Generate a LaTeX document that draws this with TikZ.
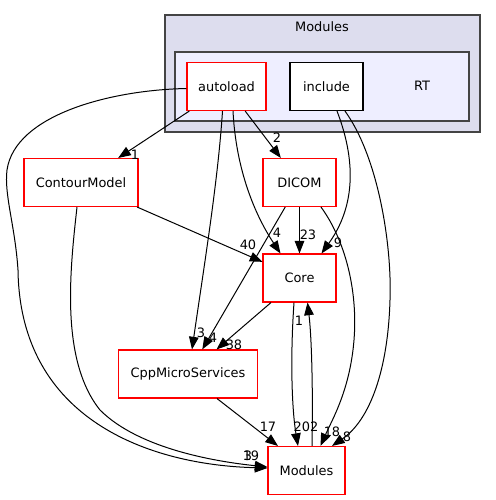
\documentclass[tikz,border=0pt]{standalone}
\usepackage{fontspec}
\setmainfont{DejaVu Sans}
\usepackage{tikz}
\usetikzlibrary{arrows.meta, calc}

\definecolor{clusterfill}{HTML}{DDDDEE}
\definecolor{rtfill}{HTML}{EEEEFF}
\definecolor{clusterline}{HTML}{444444}

\begin{document}
\begin{tikzpicture}[
    x=0.75pt, y=-0.75pt,
    every node/.style={font=\fontsize{9.7}{11}\selectfont},
    dir/.style={rectangle, draw=red, fill=white, line width=0.8pt, minimum height=36pt, inner sep=0pt},
    plaindir/.style={dir, draw=black},
    cluster/.style={rectangle, draw=clusterline, line width=1.1pt, inner sep=0pt},
    dep/.style={-{Triangle[length=9.5pt,width=7.2pt]}, line width=0.75pt},
    num/.style={inner sep=0pt}
]
\useasboundingbox (0,0) rectangle (496,500);

% clusters
\node[cluster, fill=clusterfill, minimum width=236.25pt, minimum height=87.75pt] (modcluster) at (322.5,73.5) {};
\node (modtitle) at (322,27) {Modules};
\node[cluster, fill=rtfill, minimum width=220.5pt, minimum height=51.75pt] (rtcluster) at (322,86.5) {};
\node (rttitle) at (422,86) {RT};

% directories
\node[dir, minimum width=59.25pt] (autoload) at (226.5,86.5) {autoload};
\node[plaindir, minimum width=54.75pt] (include) at (326.5,86.5) {include};
\node[dir, minimum width=85.5pt] (contour) at (81,182.5) {ContourModel};
\node[dir, minimum width=54.75pt] (dicom) at (299.5,182.5) {DICOM};
\node[dir, minimum width=54.75pt] (core) at (299.5,278) {Core};
\node[dir, minimum width=104.25pt] (cpp) at (188,374) {CppMicroServices};
\node[dir, minimum width=57.75pt] (mods) at (306.5,470.5) {Modules};

% dependencies
\draw[dep] (autoload) -- (contour);
\draw[dep] (autoload) -- (dicom);
\draw[dep] ($(autoload.south)+(6.5,0)$) .. controls (236,170) and (255,215) .. ($(core.north)+(-19,0)$);
\draw[dep] ($(autoload.south)+(-4,0)$) .. controls (218,180) and (205,260) .. ($(cpp.north)+(4,0)$);
\draw[dep] ($(autoload.west)+(0,2)$) .. controls (110,90) and (15,115) .. (7,170)
    .. controls (4,195) and (15,225) .. (18,270)
    .. controls (20,420) and (150,465) .. ($(mods.west)+(0,-2.5)$);
\draw[dep] ($(contour.south)+(-4,0)$) .. controls (70,270) and (60,360) .. (100,410)
    .. controls (140,450) and (220,462) .. ($(mods.west)+(0,-3.5)$);
\draw[dep] (contour) -- (core);
\draw[dep] (dicom) -- (core);
\draw[dep] (dicom) -- (cpp);
\draw[dep] ($(dicom.south)+(21.5,0)$) .. controls (345,240) and (358,290) .. (354,340)
    .. controls (350,390) and (332,420) .. ($(mods.north)+(14,0)$);
\draw[dep] ($(include.south)+(10.5,0)$) .. controls (352,150) and (360,200) .. ($(core.north)+(22,0)$);
\draw[dep] ($(include.south)+(18.5,0)$) .. controls (380,160) and (392,250) .. (390,300)
    .. controls (388,370) and (370,420) .. ($(mods.north)+(25.5,0)$);
\draw[dep] (core) -- (cpp);
\draw[dep] ($(core.south)+(-5.5,0)$) .. controls (290,360) and (292,410) .. ($(mods.north)+(-8.5,0)$);
\draw[dep] ($(mods.north)+(5.5,0)$) .. controls (313,400) and (312,340) .. ($(core.south)+(8,0)$);
\draw[dep] ($(cpp.south)+(29,0)$) -- ($(mods.north)+(-28.5,0)$);

% counts
\node[num] (nContour) at (135,155) {1};
\node[num] (nDicom) at (277,138) {2};
\node[num] (nAutoCore) at (277,233) {4};
\node[num] (nContourCore) at (248,245) {40};
\node[num] (nDicomCore) at (308,235) {23};
\node[num] (nIncCore) at (338,243) {9};
\node[num] (nAutoCpp) at (201,333) {3};
\node[num] (nDicomCpp) at (213,338) {4};
\node[num] (nCoreCpp) at (234,345) {38};
\node[num] (nModsCore) at (299,321) {1};
\node[num] (nCppMods) at (268,427) {17};
\node[num] (nCoreMods) at (306,427) {202};
\node[num] (nDicomMods) at (332,432) {18};
\node[num] (nIncMods) at (347,437) {8};
\node[num] (nAutoMods) at (251,456) {19};
\node[num] (nContourMods) at (248,456) {3};

\end{tikzpicture}
\end{document}
